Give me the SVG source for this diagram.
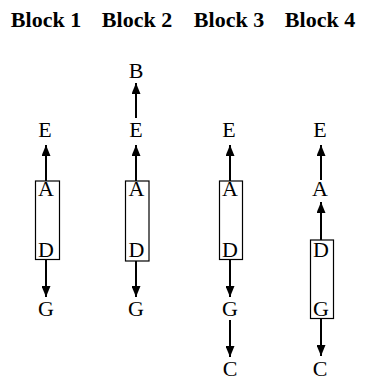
<svg xmlns="http://www.w3.org/2000/svg" width="370" height="390" viewBox="0 0 370 390">
<style>
.t{font-family:"Liberation Serif","Times New Roman",serif;font-size:22px;fill:#000;text-anchor:middle}
.h{font-family:"Liberation Serif","Times New Roman",serif;font-size:22px;font-weight:bold;fill:#000;text-anchor:middle}
.box{fill:none;stroke:#000;stroke-width:1.2}
.e{stroke:#000;stroke-width:2;fill:none;marker-end:url(#ah)}
</style>
<defs>
<marker id="ah" markerUnits="userSpaceOnUse" markerWidth="11" markerHeight="9" refX="11" refY="4.5" orient="auto">
<path d="M0,0 L11,4.5 L0,9 z" fill="#000"/>
</marker>
</defs>
<rect width="370" height="390" fill="#fff"/>
<g id="titles">
<text class="h" x="46" y="27">Block 1</text>
<text class="h" x="137" y="27">Block 2</text>
<text class="h" x="229" y="27">Block 3</text>
<text class="h" x="320" y="27">Block 4</text>
</g>
<g id="connectors">
<line class="e" x1="46" y1="181" x2="46" y2="145"/>
<line class="e" x1="46" y1="260" x2="46" y2="297"/>
<line class="e" x1="136" y1="181" x2="136" y2="145"/>
<line class="e" x1="136" y1="118" x2="136" y2="83"/>
<line class="e" x1="136" y1="261" x2="136" y2="297"/>
<line class="e" x1="230" y1="181" x2="230" y2="145"/>
<line class="e" x1="230" y1="260" x2="230" y2="297"/>
<line class="e" x1="230" y1="320" x2="230" y2="357"/>
<line class="e" x1="321" y1="240" x2="321" y2="202"/>
<line class="e" x1="321" y1="180" x2="321" y2="145"/>
<line class="e" x1="321" y1="319" x2="321" y2="356"/>
</g>
<g id="b1-E"><text class="t" x="45" y="137">E</text></g>
<g id="b1-AD"><rect class="box" x="35.5" y="181" width="24" height="78.5"/><text class="t" x="46" y="196">A</text><text class="t" x="46" y="257">D</text></g>
<g id="b1-G"><text class="t" x="46" y="316">G</text></g>
<g id="b2-B"><text class="t" x="136" y="78">B</text></g>
<g id="b2-E"><text class="t" x="136" y="137">E</text></g>
<g id="b2-AD"><rect class="box" x="125.5" y="181" width="23.5" height="80"/><text class="t" x="136.5" y="196">A</text><text class="t" x="136.5" y="257">D</text></g>
<g id="b2-G"><text class="t" x="136" y="316">G</text></g>
<g id="b3-E"><text class="t" x="229" y="137">E</text></g>
<g id="b3-AD"><rect class="box" x="219.5" y="181" width="23" height="78.5"/><text class="t" x="230" y="196">A</text><text class="t" x="230" y="257">D</text></g>
<g id="b3-G"><text class="t" x="230" y="316">G</text></g>
<g id="b3-C"><text class="t" x="230" y="376">C</text></g>
<g id="b4-E"><text class="t" x="320" y="137">E</text></g>
<g id="b4-A"><text class="t" x="320" y="196">A</text></g>
<g id="b4-DG"><rect class="box" x="310.5" y="240" width="23" height="78.5"/><text class="t" x="321" y="257">D</text><text class="t" x="321" y="316">G</text></g>
<g id="b4-C"><text class="t" x="320" y="376">C</text></g>
</svg>
